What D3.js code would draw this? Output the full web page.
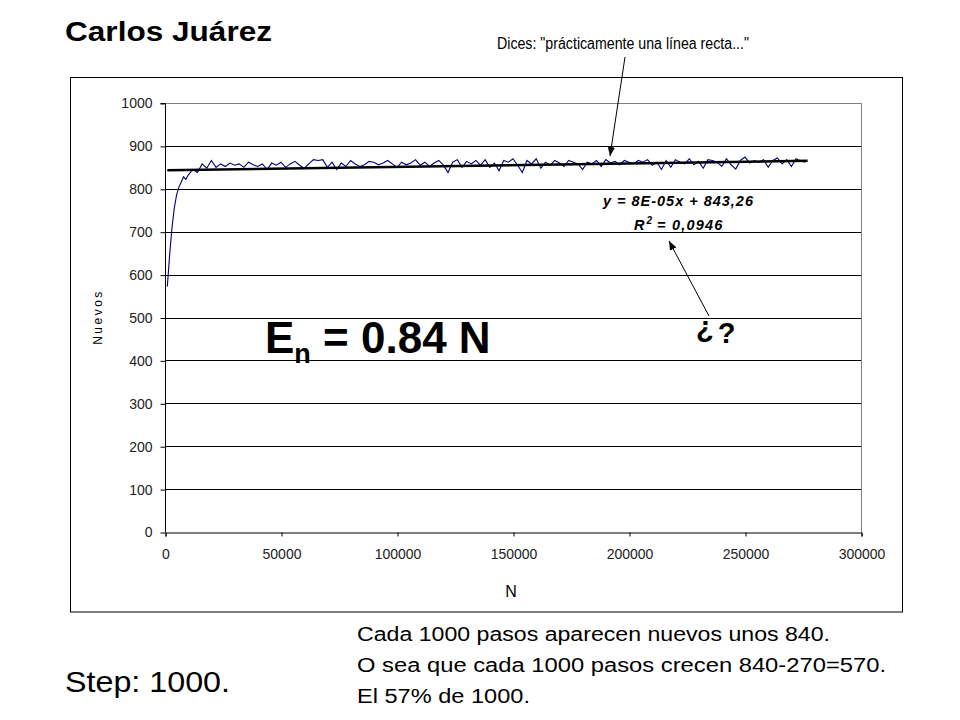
<!DOCTYPE html>
<html><head><meta charset="utf-8">
<script src="https://cdn.jsdelivr.net/npm/d3@7"></script>
<style>body{margin:0;background:#fff}svg{display:block}</style>
</head><body>
<script>
// ---- data ----
const pasos = [1000,2000,3000,4000,5000,6000,7000,8000,9000,10000,
 12000,14000,16000,18000,20000,22000,24000,26000,28000,30000,32000,34000,36000,38000,40000,
 42000,44000,46000,48000,50000,52000,54000,56000,58000,60000,62000,64000,66000,68000,70000,
 72000,74000,76000,78000,80000,82000,84000,86000,88000,90000,92000,94000,96000,98000,100000,
 102000,104000,106000,108000,110000,112000,114000,116000,118000,120000,122000,124000,126000,128000,130000,
 132000,134000,136000,138000,140000,142000,144000,146000,148000,150000,152000,154000,156000,158000,160000,
 162000,164000,166000,168000,170000,172000,174000,176000,178000,180000,182000,184000,186000,188000,190000,
 192000,194000,196000,198000,200000,202000,204000,206000,208000,210000,212000,214000,216000,218000,220000,
 222000,224000,226000,228000,230000,232000,234000,236000,238000,240000,242000,244000,246000,248000,250000,
 252000,254000,256000,258000,260000,262000,264000,266000,268000,270000,272000,274000,276000];
const nuevos = [572,646,709,755,786,804,816,828,822,832,
 845,838,858,848,866,850,858,852,860,855,858,850,862,856,852,
 858,845,860,855,862,850,858,864,855,848,858,868,866,868,850,
 862,845,860,852,866,858,852,856,864,862,856,860,866,858,850,
 862,856,860,868,855,862,852,860,866,855,838,862,868,850,864,
 858,866,855,868,850,860,842,866,862,870,855,838,866,858,870,
 848,862,855,866,860,852,866,862,858,845,862,858,866,852,868,
 860,864,856,866,862,858,866,862,868,855,862,845,866,850,868,
 862,858,870,856,864,848,868,866,862,852,870,856,846,866,874,
 860,866,862,868,850,866,872,858,868,852,870,865,862];
const trendSlope = 8e-5, trendIntercept = 843.26;
const trendRange = [1000, 277000];
const yTicks = [0,100,200,300,400,500,600,700,800,900,1000];
const xTicks = [0,50000,100000,150000,200000,250000,300000];
const eqText = "y = 8E-05x + 843,26";
const notes = ["Cada 1000 pasos aparecen nuevos unos 840.",
  "O sea que cada 1000 pasos crecen 840-270=570.",
  "El 57% de 1000."];
const noteWidths = [473, 529, 173];

// ---- layout ----
const W = 960, H = 720;
const svg = d3.select("body").append("svg").attr("width", W).attr("height", H);
const F = "Arial, 'Liberation Sans', sans-serif";
const x = d3.scaleLinear().domain([0,300000]).range([165,861]);
const y = d3.scaleLinear().domain([0,1000]).range([532,103]);

svg.append("defs").append("marker").attr("id","ah").attr("viewBox","0 0 10 10")
  .attr("refX",10).attr("refY",5).attr("markerWidth",9).attr("markerHeight",9)
  .attr("markerUnits","userSpaceOnUse").attr("orient","auto")
  .append("path").attr("d","M0,1 L10,5 L0,9 Z").attr("fill","#000");

// chart frame
svg.append("rect").attr("x",70.5).attr("y",77.5).attr("width",832).attr("height",534.5)
  .attr("fill","none").attr("stroke","#000").attr("stroke-width",1);

// gridlines
svg.append("g").selectAll("line").data(yTicks.filter(d=>d>0&&d<1000)).join("line")
  .attr("x1",x(0)).attr("x2",x(300000))
  .attr("y1",d=>Math.round(y(d))+0.5).attr("y2",d=>Math.round(y(d))+0.5)
  .attr("stroke","#000").attr("stroke-width",1);
// plot border (gray)
svg.append("path")
  .attr("d",`M${x(0)},${Math.round(y(1000))+0.5}H${Math.round(x(300000))+0.5}V${y(0)}`)
  .attr("fill","none").attr("stroke","#808080").attr("stroke-width",1);

// axes
const yAxis = d3.axisLeft(y).tickValues(yTicks).tickSize(5).tickPadding(8).tickFormat(d3.format("d"));
const gy = svg.append("g").attr("transform",`translate(${Math.round(x(0))+0.5},0.5)`).call(yAxis);
const xAxis = d3.axisBottom(x).tickValues(xTicks).tickSize(4).tickPadding(13).tickFormat(d3.format("d"));
const gx = svg.append("g").attr("transform",`translate(0.5,${Math.round(y(0))+0.5})`).call(xAxis);
[gx,gy].forEach(g=>{
  g.select(".domain").attr("stroke","#000");
  g.selectAll(".tick line").attr("stroke","#000");
  g.selectAll("text").attr("font-family",F).attr("font-size",14).attr("fill","#222");
});
gy.select(".domain").attr("d",`M-5,${y(1000)}H0V${y(0)}`);

// axis titles
svg.append("text").attr("x",511).attr("y",597).attr("text-anchor","middle")
  .attr("font-family",F).attr("font-size",16).text("N");
svg.append("text").attr("transform","translate(102,317) rotate(-90)").attr("text-anchor","middle")
  .attr("font-family",F).attr("font-size",12).attr("letter-spacing",2.5).text("Nuevos");

// series
const line = d3.line().x((d,i)=>x(pasos[i])).y(d=>y(d));
svg.append("path").datum(nuevos).attr("d",line).attr("fill","none")
  .attr("stroke","#000080").attr("stroke-width",1.1);

// trendline
svg.append("line")
  .attr("x1",x(trendRange[0])).attr("y1",y(trendIntercept+trendSlope*trendRange[0]))
  .attr("x2",x(trendRange[1])).attr("y2",y(trendIntercept+trendSlope*trendRange[1]))
  .attr("stroke","#000").attr("stroke-width",2.5);

// equation
svg.append("text").attr("x",603).attr("y",206).attr("font-family",F).attr("font-size",14.5)
  .attr("font-weight","bold").attr("font-style","italic")
  .attr("textLength",150).attr("lengthAdjust","spacing").text(eqText);
const r2 = svg.append("text").attr("x",634).attr("y",230).attr("font-family",F).attr("font-size",14.5)
  .attr("font-weight","bold").attr("font-style","italic");
r2.append("tspan").text("R");
r2.append("tspan").attr("font-size",10).attr("dy",-6).attr("dx",2).text("2");
r2.append("tspan").attr("dy",6).attr("dx",5).attr("letter-spacing",1.2).text("= 0,0946");

// titles and notes
svg.append("text").attr("x",65).attr("y",41).attr("font-family",F).attr("font-size",28)
  .attr("font-weight","bold").attr("textLength",207).attr("lengthAdjust","spacingAndGlyphs")
  .text("Carlos Juárez");
svg.append("text").attr("x",497).attr("y",49).attr("font-family",F).attr("font-size",16)
  .attr("textLength",252).attr("lengthAdjust","spacingAndGlyphs")
  .text('Dices: "prácticamente una línea recta..."');

// arrows
svg.append("line").attr("x1",625).attr("y1",57).attr("x2",610).attr("y2",156)
  .attr("stroke","#000").attr("stroke-width",1).attr("marker-end","url(#ah)");
svg.append("line").attr("x1",709).attr("y1",316).attr("x2",669).attr("y2",241)
  .attr("stroke","#000").attr("stroke-width",1).attr("marker-end","url(#ah)");

// big formula
const en = svg.append("text").attr("x",265).attr("y",353).attr("font-family",F)
  .attr("font-size",44).attr("font-weight","bold");
en.append("tspan").text("E");
en.append("tspan").attr("font-size",27).attr("dy",10).text("n");
en.append("tspan").attr("dy",-10).text(" = 0.84 N");
const q = svg.append("text").attr("x",696).attr("y",343).attr("font-family",F).attr("font-size",29)
  .attr("font-weight","bold");
q.append("tspan").attr("dy",-6).text("¿");
q.append("tspan").attr("dy",6).attr("dx",4).text("?");

svg.append("text").attr("x",65).attr("y",692).attr("font-family",F).attr("font-size",29)
  .attr("textLength",165).attr("lengthAdjust","spacingAndGlyphs").text("Step: 1000.");
svg.append("g").selectAll("text").data(notes).join("text")
  .attr("x",357).attr("y",(d,i)=>641+i*31).attr("font-family",F).attr("font-size",19.5)
  .attr("textLength",(d,i)=>noteWidths[i]).attr("lengthAdjust","spacingAndGlyphs")
  .text(d=>d);
</script>
</body></html>
